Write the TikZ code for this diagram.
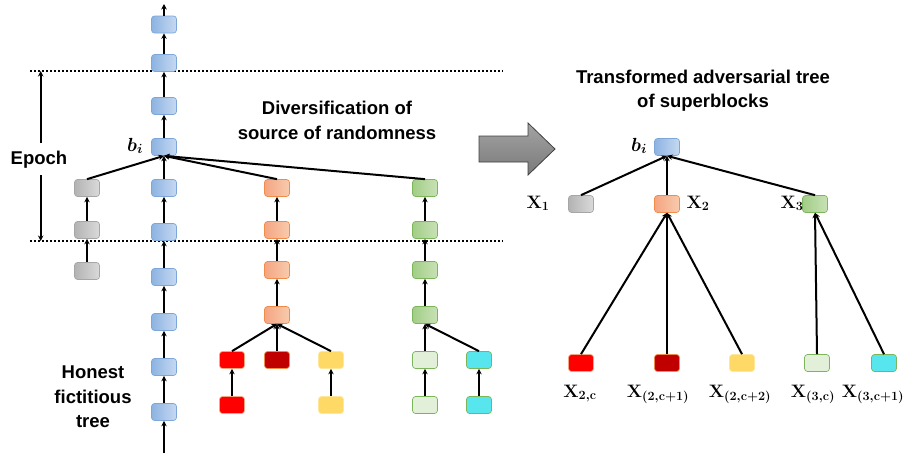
\RequirePackage{fix-cm}
\documentclass[tikz,border=0pt]{standalone}
\usepackage{fontspec}
\newfontfamily\arialfont{Liberation Sans}
\usetikzlibrary{arrows.meta}
\definecolor{bluD}{HTML}{8DB3E2}\definecolor{bluL}{HTML}{C6D9F1}\definecolor{bluB}{HTML}{7DA7D9}
\definecolor{graD}{HTML}{B3B3B3}\definecolor{graL}{HTML}{DADADA}\definecolor{graB}{HTML}{A6A6A6}
\definecolor{oraD}{HTML}{F4A582}\definecolor{oraL}{HTML}{F8CBAD}\definecolor{oraB}{HTML}{F08B4A}
\definecolor{greD}{HTML}{A2CD86}\definecolor{greL}{HTML}{C8E2B6}\definecolor{greB}{HTML}{7CB55A}
\definecolor{redF}{HTML}{FF0000}\definecolor{redB}{HTML}{F4A582}
\definecolor{drkF}{HTML}{C00000}
\definecolor{yelF}{HTML}{FFD966}\definecolor{yelB}{HTML}{FFE699}
\definecolor{lgrF}{HTML}{E2F0D9}
\definecolor{cyaF}{HTML}{57E6EE}
\definecolor{arrD}{HTML}{7A7A7A}\definecolor{arrL}{HTML}{A3A3A3}\definecolor{arrB}{HTML}{404040}
\begin{document}
\begin{tikzpicture}[x=1pt,y=-1pt,
  blk/.style={rectangle, rounded corners=3pt, minimum width=25pt, minimum height=17pt, line width=0.7pt, inner sep=0pt},
  bluebox/.style={blk, draw=bluB, left color=bluD, right color=bluL},
  graybox/.style={blk, draw=graB, left color=graD, right color=graL},
  orabox/.style={blk, draw=oraB, left color=oraD, right color=oraL},
  grebox/.style={blk, draw=greB, left color=greD, right color=greL},
  redbox/.style={blk, draw=redB, fill=redF},
  drkbox/.style={blk, draw=oraB, fill=drkF},
  yelbox/.style={blk, draw=yelB, fill=yelF},
  lgrbox/.style={blk, draw=greB, fill=lgrF},
  cyabox/.style={blk, draw=greB, fill=cyaF},
  conn/.style={-{Stealth[length=5.5pt,width=5.5pt]}, line width=2pt},
  ttl/.style={font=\arialfont\bfseries\fontsize{18.5}{24.5}\selectfont, align=center, inner sep=0pt},
  mlab/.style={font=\fontsize{18}{20}\selectfont\boldmath, inner sep=0pt, anchor=base},
  blab/.style={font=\fontsize{19}{20}\selectfont\boldmath, inner sep=0pt, anchor=base},
  dotline/.style={line width=1.8pt, dash pattern=on 1.8pt off 2.2pt}
]
\useasboundingbox (0,0) rectangle (904,453);

% dotted epoch bounds
\coordinate (d1a) at (30,71); \coordinate (d1b) at (503,71);
\coordinate (d2a) at (30,241); \coordinate (d2b) at (503,241);
\draw[dotline] (d1a) -- (d1b);
\draw[dotline] (d2a) -- (d2b);

% epoch arrow
\node[ttl] (epoch) at (39,160) {Epoch};
\coordinate (e1) at (40.7,143); \coordinate (e2) at (40.7,71);
\coordinate (e3) at (40.7,175); \coordinate (e4) at (40.7,241);
\draw[conn] (e1) -- (e2);
\draw[conn] (e3) -- (e4);

% blue chain
\node[bluebox] (a0) at (164,24.5) {};
\node[bluebox] (a1) at (164,63) {};
\node[bluebox] (a2) at (164,106) {};
\node[bluebox] (bi) at (164,147) {};
\node[bluebox] (a4) at (164,188) {};
\node[bluebox] (a5) at (164,232) {};
\node[bluebox] (a6) at (164,277) {};
\node[bluebox] (a7) at (164,322) {};
\node[bluebox] (a8) at (164,367) {};
\node[bluebox] (a9) at (164,412) {};
\coordinate (atop) at (164,4);
\coordinate (abot) at (164,453);
\node[blab] (bilab) at (135,151) {$b_i$};

% gray
\node[graybox] (g1) at (87,188) {};
\node[graybox] (g2) at (87,230) {};
\node[graybox] (g3) at (87,271) {};
% orange
\node[orabox] (o1) at (277,188) {};
\node[orabox] (o2) at (277,230) {};
\node[orabox] (o3) at (277,270) {};
\node[orabox] (o4) at (277,315) {};
% green
\node[grebox] (n1) at (425,188) {};
\node[grebox] (n2) at (425,230) {};
\node[grebox] (n3) at (425,270) {};
\node[grebox] (n4) at (425,315) {};
\node[lgrbox] (l1) at (425,360) {};
\node[lgrbox] (l2) at (425,405) {};
% leaves
\node[redbox] (r1) at (232,360) {};
\node[redbox] (r2) at (232,405) {};
\node[drkbox] (dk) at (277,360) {};
\node[yelbox] (y1) at (331,360) {};
\node[yelbox] (y2) at (331,405) {};
\node[cyabox] (c1) at (479,360) {};
\node[cyabox] (c2) at (479,405) {};

\draw[conn] (a0.north) -- (atop);
\draw[conn] (abot) -- (a9.south);
\foreach \c/\p in {a1/a0,a2/a1,bi/a2,a4/bi,a5/a4,a6/a5,a7/a6,a8/a7,a9/a8,
  g1/bi,g2/g1,g3/g2,
  o1/bi,o2/o1,o3/o2,o4/o3,r1/o4,dk/o4,y1/o4,r2/r1,y2/y1,
  n1/bi,n2/n1,n3/n2,n4/n3,l1/n4,l2/l1,c1/n4,c2/c1}
  \draw[conn] (\c.north) -- (\p.south);

\node[ttl] (div) at (337,120.5) {Diversification of\\source of randomness};
\node[ttl] (hon) at (93,397) {Honest\\fictitious\\tree};

% big arrow
\draw[line width=0.8pt, draw=arrB, top color=arrL, bottom color=arrD]
  (479,136) -- (528,136) -- (528,123) -- (555,149) -- (528,175) -- (528,162) -- (479,162) -- cycle;

% right tree
\node[ttl] (trt) at (703,90.5) {Transformed adversarial tree\\of superblocks};
\node[bluebox] (RB) at (667,147) {};
\node[graybox] (RX1) at (581,204) {};
\node[orabox] (RX2) at (667,204) {};
\node[grebox] (RX3) at (815,204) {};
\node[redbox] (rr) at (581,363) {};
\node[drkbox] (rd) at (667,363) {};
\node[yelbox] (ry) at (742,363) {};
\node[lgrbox] (rl) at (817,363) {};
\node[cyabox] (rc) at (884,363) {};
\foreach \c/\p in {RX1/RB,RX2/RB,RX3/RB,rr/RX2,rd/RX2,ry/RX2,rl/RX3,rc/RX3}
  \draw[conn] (\c.north) -- (\p.south);

\node[blab] (RBlab) at (639,151) {$b_i$};
\node[mlab] (lx1) at (538,208) {$\mathbf{X}_{\mathbf{1}}$};
\node[mlab] (lx2) at (698,208) {$\mathbf{X}_{\mathbf{2}}$};
\node[mlab] (lx3) at (792,208) {$\mathbf{X}_{\mathbf{3}}$};
\node[mlab] (lxa) at (580,397) {$\mathbf{X}_{\mathbf{2,c}}$};
\node[mlab] (lxb) at (658,397) {$\mathbf{X}_{(\mathbf{2},\mathbf{c}+\mathbf{1})}$};
\node[mlab] (lxc) at (740,397) {$\mathbf{X}_{(\mathbf{2},\mathbf{c}+\mathbf{2})}$};
\node[mlab] (lxd) at (813,397) {$\mathbf{X}_{(\mathbf{3},\mathbf{c})}$};
\node[mlab] (lxe) at (873,397) {$\mathbf{X}_{(\mathbf{3},\mathbf{c}+\mathbf{1})}$};
\end{tikzpicture}
\end{document}
